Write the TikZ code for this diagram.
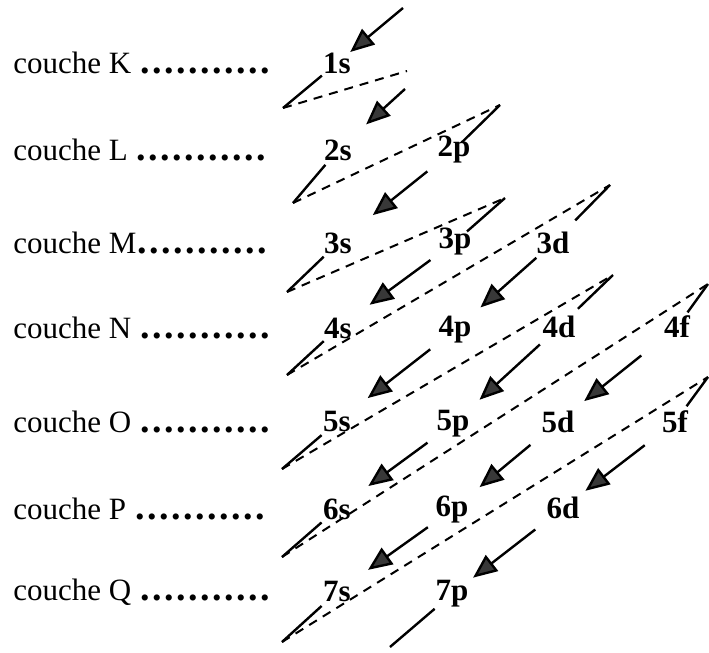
\documentclass[tikz,border=0pt]{standalone}
\usepackage{fontspec}
\setmainfont{Liberation Serif}
\usetikzlibrary{arrows.meta,calc}
\newcommand{\pointilles}{\foreach \i in {1,...,11}{\makebox[6pt]{\fontsize{19}{19}\selectfont\textbf{.}}}}

\begin{document}
\begin{tikzpicture}[x=0.5pt,y=-0.5pt,
  couche/.style={anchor=west,inner sep=0pt,font=\fontsize{15.5}{18}\selectfont},
  orb/.style={inner sep=0pt,font=\bfseries\fontsize{15.5}{18}\selectfont},
  trait/.style={line width=1.2pt},
  fleche/.style={line width=1.2pt,-{Triangle[length=12pt,width=10pt,fill=black!78]}},
  tirets/.style={line width=1pt,dash pattern=on 4.5pt off 3.5pt}]
\useasboundingbox (0,0) rectangle (709,653);
\foreach \txt/\nom/\y in {{K\ }/cK/63,{L\ }/cL/150,{M}/cM/243,{N\ }/cN/328,{O\ }/cO/422,{P\ }/cP/509,{Q\ }/cQ/592}
  \node[couche] (\nom) at (13,\y) {couche \txt\pointilles};
\foreach \nom/\x/\y in {1s/337/63,2s/338/150,2p/454/150,3s/338/243,3p/455/242,3d/553/243,
  4s/338/328,4p/455/330,4d/559/327,4f/677/327,5s/337/422,5p/453/424,5d/558/422,5f/675/422,
  6s/337/509,6p/452/510,6d/563/508,7s/337/592,7p/452/594}
  \node[orb] (\nom) at (\x,\y) {\nom};
% debuts et fins des diagonales
\coordinate (k1) at (403,8);
\coordinate (k2) at (405,89);
\coordinate (d2) at (407,71);
\coordinate (s3) at (500,105);
\coordinate (s4) at (505,198);
\coordinate (s5) at (610,185);
\coordinate (s6) at (613,275);
\coordinate (s7) at (708,284);
\coordinate (s8) at (708,377);
\coordinate (e1) at (283,108);
\coordinate (e2) at (293,203);
\coordinate (e3) at (287,292);
\coordinate (e4) at (287,375);
\coordinate (e5) at (282,469);
\coordinate (e6) at (282,557);
\coordinate (e7) at (282,642);
\coordinate (e8) at (390,647);
% fleches
\foreach \a/\b/\u/\v in {k1/1s/0/.8,k2/2s/0/.58,2p/3s/.23/.70,3p/4s/.21/.73,3d/4p/.17/.74,
  4p/5s/.21/.74,4d/5p/.18/.75,5p/6s/.22/.73,4f/5d/.30/.78,5d/6p/.26/.74,6p/7s/.21/.73,
  5f/6d/.27/.80,6d/7p/.25/.81}
  \draw[fleche] ($(\a)!\u!(\b)$) -- ($(\a)!\v!(\b)$);
\foreach \a/\b/\v in {s3/2p/.83,s4/3p/.76,s5/3d/.61,s6/4d/.65,s7/4f/.66,s8/5f/.65}
  \draw[trait] (\a) -- ($(\a)!\v!(\b)$);
\foreach \a/\b in {1s/e1,2s/e2,3s/e3,4s/e4,5s/e5,6s/e6,7s/e7,7p/e8}
  \draw[trait] ($(\a)!.28!(\b)$) -- (\b);
% retours en tirets
\foreach \a/\b in {e1/d2,e2/s3,e3/s4,e4/s5,e5/s6,e6/s7,e7/s8}
  \draw[tirets] (\a) -- (\b);
\end{tikzpicture}
\end{document}
